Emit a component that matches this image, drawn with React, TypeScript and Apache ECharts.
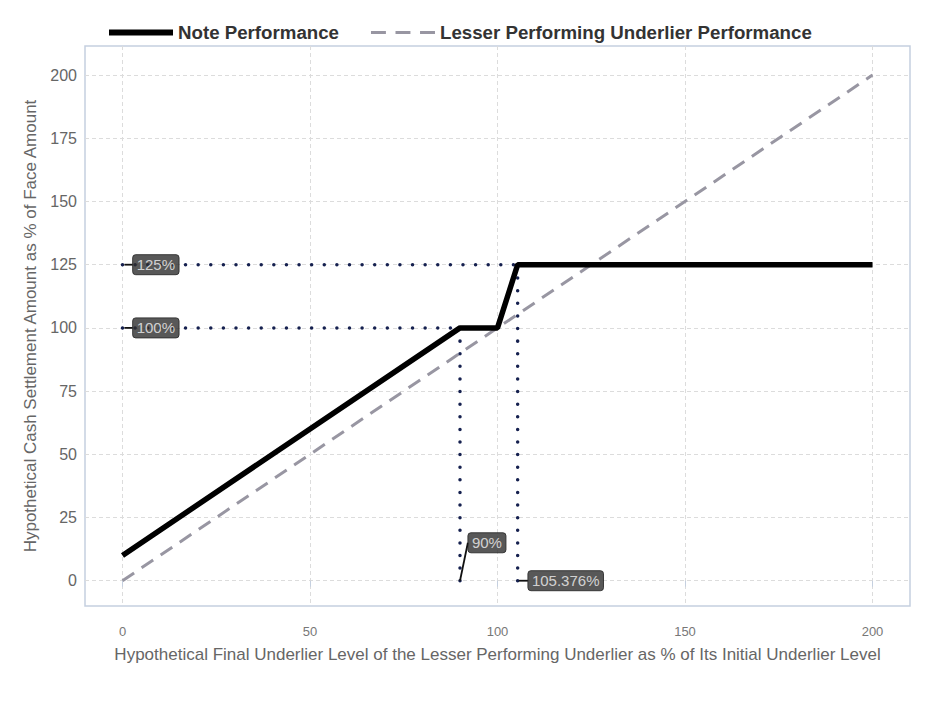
import React, { useEffect, useRef } from "react";
import * as echarts from "echarts";

const xTicks = [0, 50, 100, 150, 200];
const yTicks = [0, 25, 50, 75, 100, 125, 150, 175, 200];

const noteX = [0, 90, 100, 105.376, 200];
const noteY = [10, 100, 100, 125, 125];

const underX = [0, 200];
const underY = [0, 200];

// reference dotted lines: [x1, y1, x2, y2]
const refSegments = [
  [0, 125, 105.376, 125],
  [0, 100, 90, 100],
  [90, 0, 90, 100],
  [105.376, 0, 105.376, 125],
];

// annotations: leader start (x0,y0) -> label anchor (x,y)
const annText = ["125%", "100%", "90%", "105.376%"];
const annFromX = [0.5, 0.5, 90, 105.7];
const annFromY = [125, 100, 0, 0];
const annX = [2.7, 2.7, 92.1, 108.1];
const annY = [125, 100, 15, 0];

const FONT = "Liberation Sans, Arial, sans-serif";

export default function App() {
  const ref = useRef<HTMLDivElement>(null);
  useEffect(() => {
    const chart = echarts.init(ref.current!, null, { renderer: "svg" });
    const refSeries = refSegments.map((s, i) => ({
      type: "line",
      name: "ref" + i,
      data: [
        [s[0], s[1]],
        [s[2], s[3]],
      ],
      symbol: "none",
      silent: true,
      lineStyle: { color: "#15204f", width: 3.5, type: [0.01, 12.6], cap: "round" },
      z: 3,
    }));
    const leaderSeries = annX.map((x, i) => ({
      type: "line",
      name: "leader" + i,
      data: [
        [annFromX[i], annFromY[i]],
        [x, annY[i]],
      ],
      symbol: "none",
      silent: true,
      lineStyle: { color: "#111", width: 1.8 },
      z: 5,
    }));
    const annData = annX.map((x, i) => ({ value: [x, annY[i]], txt: annText[i] }));
    chart.setOption({
      animation: false,
      textStyle: { fontFamily: FONT },
      legend: {
        top: 10,
        left: 96,
        itemWidth: 64,
        itemHeight: 6,
        itemGap: 32,
        textStyle: { fontFamily: FONT, fontSize: 18.7, fontWeight: "bold", color: "#333" },
        data: [
          { name: "Note Performance", icon: "path://M0,0H64V6H0Z" },
          {
            name: "Lesser Performing Underlier Performance",
            icon: "path://M0,0H14V3H0Z M23,0H37V3H23Z M46,0H60V3H46Z",
          },
        ],
      },
      grid: {
        left: 77,
        right: 19,
        top: 38,
        bottom: 89,
        show: true,
        borderColor: "#c5d0e0",
        borderWidth: 1.5,
        containLabel: false,
      },
      xAxis: {
        type: "value",
        min: -10,
        max: 210,
        name: "Hypothetical Final Underlier Level of the Lesser Performing Underlier as % of Its Initial Underlier Level",
        nameLocation: "middle",
        nameGap: 40,
        nameTextStyle: { fontFamily: FONT, fontSize: 17, color: "#666" },
        axisLine: { show: false },
        axisTick: { show: true, customValues: xTicks, length: 6, lineStyle: { color: "#c5d0e0" } },
        axisLabel: { customValues: xTicks, color: "#777", fontSize: 13, margin: 19, fontFamily: FONT },
        splitLine: { show: true, lineStyle: { color: "#dcdcdc", type: [4, 3] } },
      },
      yAxis: {
        type: "value",
        min: -10,
        max: 211.5,
        name: "Hypothetical Cash Settlement Amount as % of Face Amount",
        nameLocation: "middle",
        nameGap: 42,
        nameTextStyle: { fontFamily: FONT, fontSize: 17, color: "#666" },
        axisLine: { show: false },
        axisTick: { show: false, customValues: yTicks },
        axisLabel: { customValues: yTicks, color: "#666", fontSize: 16, margin: 8, fontFamily: FONT },
        splitLine: { show: true, lineStyle: { color: "#dcdcdc", type: [4, 3] } },
      },
      series: [
        {
          type: "line",
          name: "Lesser Performing Underlier Performance",
          data: underX.map((x, i) => [x, underY[i]]),
          symbol: "none",
          lineStyle: { color: "#9896a2", width: 3, type: [14, 9] },
          itemStyle: { color: "#9896a2" },
          z: 2,
        },
        ...refSeries,
        {
          type: "line",
          name: "Note Performance",
          data: noteX.map((x, i) => [x, noteY[i]]),
          symbol: "none",
          lineStyle: { color: "#000", width: 5.5 },
          itemStyle: { color: "#000" },
          z: 4,
        },
        ...leaderSeries,
        {
          type: "scatter",
          name: "ann",
          symbolSize: 0.1,
          data: annData,
          silent: true,
          z: 6,
          label: {
            show: true,
            position: "right",
            distance: 0,
            formatter: (p: any) => p.data.txt,
            backgroundColor: "#2e2e2e",
            color: "#f2f2f2",
            fontSize: 15,
            fontFamily: FONT,
            padding: [3, 4, 2, 4],
            borderRadius: 3,
            borderColor: "#111",
            borderWidth: 0.5,
          },
        },
      ],
    });
    return () => chart.dispose();
  }, []);
  return <div ref={ref} style={{ width: 921, height: 687 }} />;
}
